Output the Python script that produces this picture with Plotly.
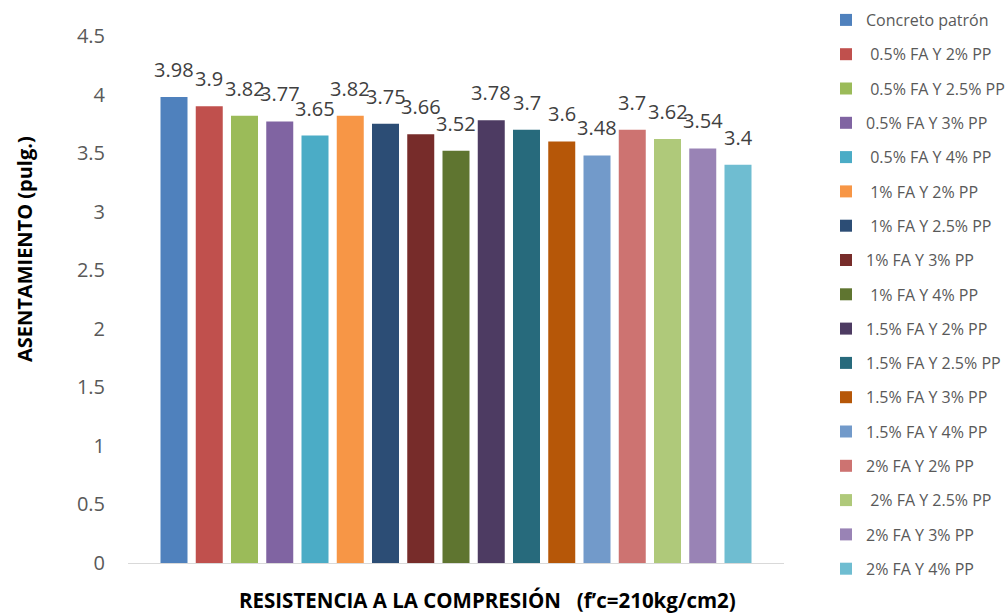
import plotly.graph_objects as go

series_names = [
    "Concreto patrón", "\u00a00.5% FA Y 2% PP", "\u00a00.5% FA Y 2.5% PP", "0.5% FA Y 3% PP",
    "\u00a00.5% FA Y 4% PP", "\u00a01% FA Y 2% PP", "\u00a01% FA Y 2.5% PP", "1% FA Y 3% PP",
    "\u00a01% FA Y 4% PP", "1.5% FA Y 2% PP", "1.5% FA Y 2.5% PP", "1.5% FA Y 3% PP",
    "1.5% FA Y 4% PP", "2% FA Y 2% PP", "\u00a02% FA Y 2.5% PP", "2% FA Y 3% PP", "2% FA Y 4% PP",
]
values = [3.98, 3.9, 3.82, 3.77, 3.65, 3.82, 3.75, 3.66, 3.52, 3.78, 3.7, 3.6, 3.48, 3.7, 3.62, 3.54, 3.4]
colors = [
    "#4F81BD", "#C0504D", "#9BBB59", "#8064A2", "#4BACC6", "#F79646", "#2C4D75", "#772C2A",
    "#5F7530", "#4D3B62", "#276A7C", "#B65708", "#729ACA", "#CD7371", "#AFC97A", "#9983B5", "#6FBDD1",
]

n = len(values)
fig = go.Figure()
annotations = []
for i, (name, v, c) in enumerate(zip(series_names, values, colors)):
    fig.add_trace(go.Bar(
        x=[i], y=[v], name=name, marker=dict(color=c, line=dict(width=0)),
        legendgroup=f"g{i}", hoverinfo="name+y",
    ))
    annotations.append(dict(
        x=i, y=v, xref="x", yref="y", text=f"{v:g}", showarrow=False,
        xanchor="center", yanchor="bottom", yshift=12,
        font=dict(family="Open Sans", size=20, color="#404040"),
    ))

annotations += [
    dict(text="ASENTAMIENTO (pulg.)", textangle=-90, xref="paper", yref="paper",
         x=(24 - 128) / 656, y=(563 - 249) / 527, xanchor="center", yanchor="middle", showarrow=False,
         font=dict(family="Open Sans", size=20, color="#000000", weight="bold")),
    dict(text="RESISTENCIA A LA COMPRESIÓN\u00a0\u00a0\u00a0(f’c=210kg/cm2)", xref="paper", yref="paper",
         x=(487 - 128) / 656, y=(563 - 600) / 527, xanchor="center", yanchor="middle",
         showarrow=False,
         font=dict(family="Open Sans", size=20.5, color="#000000", weight="bold")),
]

pad = 0.805
fig.update_layout(
    width=1006, height=614,
    margin=dict(l=128, r=222, t=36, b=51, autoexpand=False),
    paper_bgcolor="white", plot_bgcolor="white",
    barmode="overlay", bargap=0.234,
    font=dict(family="Open Sans", color="#595959"),
    showlegend=True,
    legend=dict(
        xref="container", yref="container",
        x=826 / 1006, xanchor="left", y=1 - 3 / 614, yanchor="top",
        font=dict(family="Open Sans", size=16, color="#595959"),
        tracegroupgap=10.5, itemwidth=30, bgcolor="rgba(0,0,0,0)", maxheight=614,
    ),
    xaxis=dict(range=[-0.5 - pad, n - 0.5 + pad], showticklabels=False, showline=True,
               linecolor="#D9D9D9", linewidth=1, ticks="", showgrid=False, zeroline=False),
    yaxis=dict(range=[0, 4.5], dtick=0.5, showgrid=False, zeroline=False, showline=False,
               tickfont=dict(family="Open Sans", size=20, color="#595959"),
               ticklabelstandoff=22),
    annotations=annotations,
)

fig.write_html("out.html")
